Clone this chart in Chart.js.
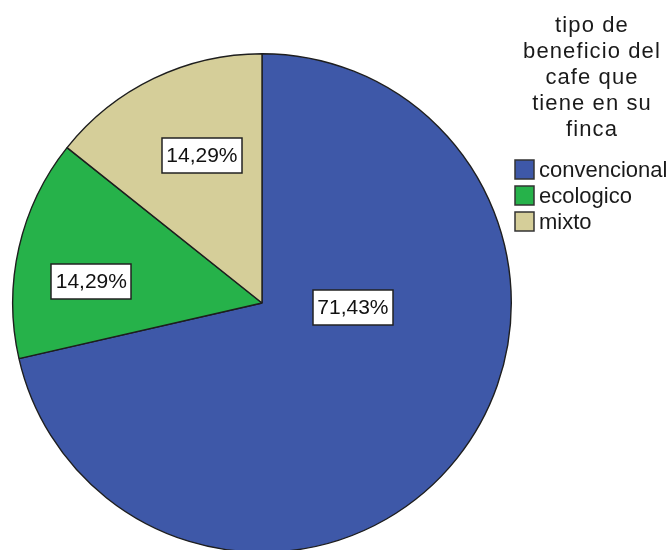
<!DOCTYPE html>
<html>
<head>
<meta charset="utf-8">
<script src="https://cdn.jsdelivr.net/npm/chart.js@4.4.1/dist/chart.umd.min.js"></script>
<style>
  html, body { margin: 0; padding: 0; background: #ffffff; overflow: hidden; }
  #wrap { width: 672px; height: 560px; position: relative; }
</style>
</head>
<body>
<div id="wrap"><canvas id="c"></canvas></div>
<script>
// ---- data ----
const categories = ["convencional", "ecologico", "mixto"];
const percentages = [71.43, 14.29, 14.29];
const sliceColors = ["#3e58a8", "#26b24a", "#d5ce99"];
const legendTitleLines = ["tipo de", "beneficio del", "cafe que", "tiene en su", "finca"];

// label placement within each slice (fraction of slice angle, fraction of radius)
const labelAngleFrac = [0.36, 0.39, 0.57];
const labelRadiusFrac = [0.365, 0.69, 0.64];

const FONT = "'Liberation Sans', Arial, sans-serif";

function fmt(v) {
  return v.toFixed(2).replace('.', ',') + '%';
}

const labelPlugin = {
  id: 'sliceLabels',
  afterDatasetsDraw(chart) {
    const ctx = chart.ctx;
    const meta = chart.getDatasetMeta(0);
    ctx.save();
    ctx.font = "21px " + FONT;
    ctx.textAlign = 'center';
    ctx.textBaseline = 'middle';
    meta.data.forEach((arc, i) => {
      const p = arc.getProps(['x', 'y', 'startAngle', 'endAngle', 'outerRadius'], true);
      const a = p.startAngle + (p.endAngle - p.startAngle) * labelAngleFrac[i];
      const r = p.outerRadius * labelRadiusFrac[i];
      const x = p.x + Math.cos(a) * r;
      const y = p.y + Math.sin(a) * r;
      const txt = fmt(percentages[i]);
      const w = ctx.measureText(txt).width + 9;
      const h = 35;
      ctx.fillStyle = '#ffffff';
      ctx.fillRect(Math.round(x - w / 2), Math.round(y - h / 2), Math.round(w), h);
      ctx.lineWidth = 1.5;
      ctx.strokeStyle = '#222222';
      ctx.strokeRect(Math.round(x - w / 2), Math.round(y - h / 2), Math.round(w), h);
      ctx.fillStyle = '#111111';
      ctx.fillText(txt, x, y + 1);
    });
    ctx.restore();
  }
};

const legendPlugin = {
  id: 'customLegend',
  afterDraw(chart) {
    const ctx = chart.ctx;
    ctx.save();
    ctx.fillStyle = '#1a1a1a';
    ctx.textAlign = 'center';
    ctx.textBaseline = 'alphabetic';
    ctx.font = "22px " + FONT;
    try { ctx.letterSpacing = '1.1px'; } catch (e) {}
    const cx = 592;
    legendTitleLines.forEach((line, i) => {
      ctx.fillText(line, cx, 32 + i * 26);
    });
    try { ctx.letterSpacing = '0px'; } catch (e) {}
    ctx.font = "22px " + FONT;
    ctx.textAlign = 'left';
    const labels = chart.data.labels;
    const colors = chart.data.datasets[0].backgroundColor;
    labels.forEach((lab, i) => {
      const top = 160 + i * 26;
      ctx.fillStyle = colors[i];
      ctx.fillRect(515, top, 19, 19);
      ctx.lineWidth = 1.5;
      ctx.strokeStyle = '#333333';
      ctx.strokeRect(515, top, 19, 19);
      ctx.fillStyle = '#1a1a1a';
      ctx.fillText(lab, 539, top + 17);
    });
    ctx.restore();
  }
};

new Chart(document.getElementById('c'), {
  type: 'pie',
  data: {
    labels: categories,
    datasets: [{
      data: percentages,
      backgroundColor: sliceColors,
      borderColor: '#1e1e1e',
      borderWidth: 1.4
    }]
  },
  options: {
    responsive: true,
    maintainAspectRatio: false,
    animation: false,
    layout: { padding: { left: 12, top: 53, right: 160, bottom: 7 } },
    plugins: {
      legend: { display: false },
      tooltip: { enabled: false },
      title: { display: false }
    }
  },
  plugins: [labelPlugin, legendPlugin]
});
</script>
</body>
</html>
